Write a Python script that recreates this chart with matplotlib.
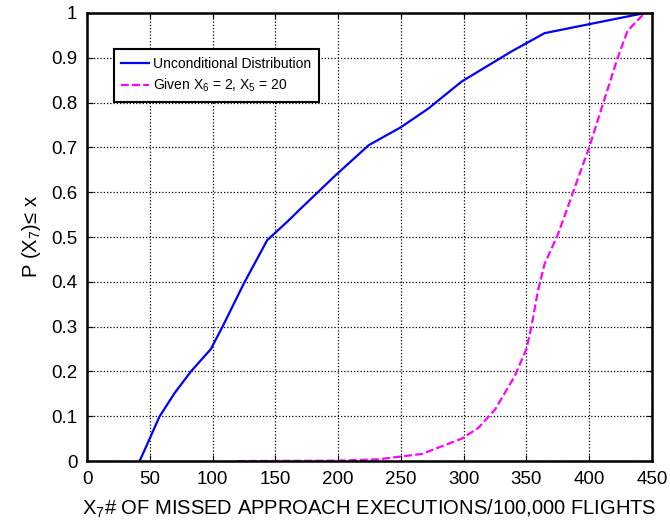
import matplotlib.pyplot as plt

plt.rcParams['font.family'] = ['Liberation Sans', 'DejaVu Sans']
plt.rcParams['mathtext.default'] = 'regular'

# unconditional distribution (blue)
x_uncond = [41.8, 47, 57.6, 69.5, 82.7, 98.6, 107.9, 125, 143.5, 159.4, 168.9, 198,
            224.4, 250, 272, 298.4, 338, 364.5, 400, 441, 445]
p_uncond = [0.0, 0.032, 0.099, 0.151, 0.2, 0.25, 0.30, 0.397, 0.493, 0.534, 0.56, 0.638,
            0.705, 0.745, 0.787, 0.847, 0.914, 0.955, 0.975, 0.998, 1.0]

# given X6 = 2, X5 = 20 (magenta)
x_given = [120, 200, 232, 266.7, 298.4, 311.7, 325, 340.8, 350, 354, 359.2, 364.5,
           375, 383, 391, 400, 422.7, 430.6, 442.5, 445]
p_given = [0.0, 0.001, 0.004, 0.016, 0.05, 0.074, 0.115, 0.19, 0.25, 0.30, 0.38, 0.44,
           0.505, 0.567, 0.63, 0.70, 0.90, 0.96, 0.995, 1.0]

fig = plt.figure(figsize=(6.7, 5.3), dpi=100)
ax = fig.add_axes([0.13, 0.13, 0.843, 0.8455])

ax.plot(x_uncond, p_uncond, color='#0000ff', lw=1.6, label='Unconditional Distribution')
ax.plot(x_given, p_given, color='#ff00ff', lw=1.6, ls=(0, (3.5, 1.5)),
        label='Given X$_{6}$ = 2, X$_{5}$ = 20')

ax.set_xlim(0, 450)
ax.set_ylim(0, 1)
ax.set_xticks(range(0, 451, 50))
ax.set_yticks([i / 10 for i in range(11)])
ax.set_yticklabels(['0', '0.1', '0.2', '0.3', '0.4', '0.5', '0.6', '0.7', '0.8', '0.9', '1'])
ax.grid(True, color='black', ls=(0, (1, 1.6)), lw=0.9)
ax.tick_params(direction='in', top=True, right=True, labelsize=13.5, length=4, pad=7)
for s in ax.spines.values():
    s.set_linewidth(1.8)

ax.set_xlabel('X$_{7}$# OF MISSED APPROACH EXECUTIONS/100,000 FLIGHTS', fontsize=14.5, labelpad=7)
ax.set_ylabel('P (X$_{7}$)\u2264 x', fontsize=14.5, labelpad=6)

leg = ax.legend(loc='upper left', bbox_to_anchor=(0.035, 0.935), fontsize=10,
                fancybox=False, framealpha=1, edgecolor='black', handlelength=2.0,
                handletextpad=0.3, borderpad=0.55, labelspacing=0.45)
leg.get_frame().set_linewidth(1.5)

fig.savefig('out.png', dpi=100)
